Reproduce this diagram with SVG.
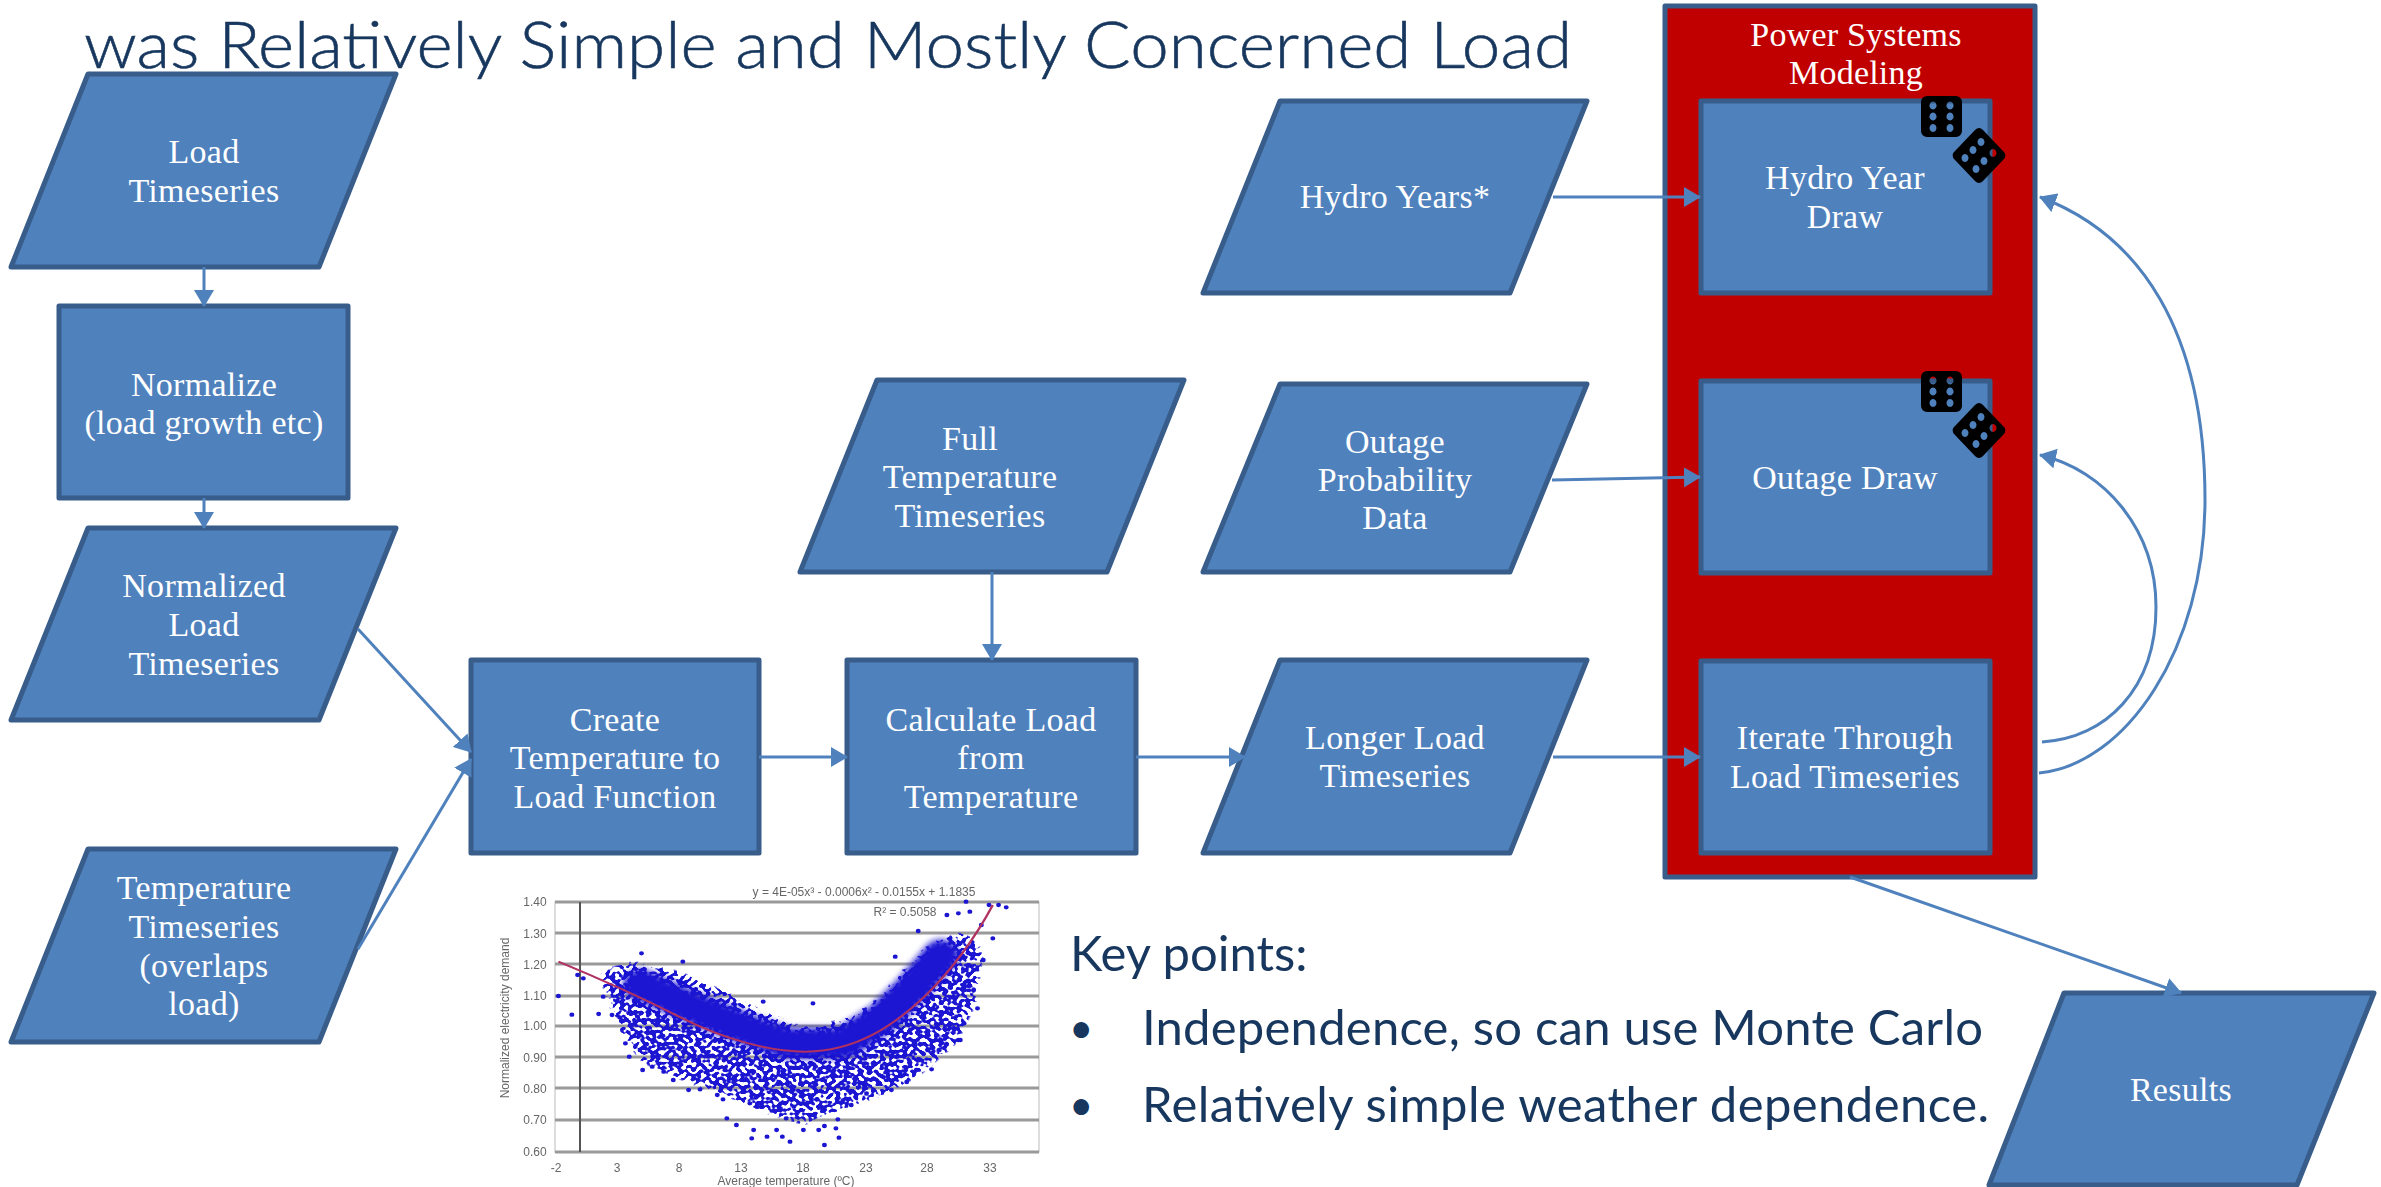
<svg xmlns="http://www.w3.org/2000/svg" width="2381" height="1187" viewBox="0 0 2381 1187">
<style>
.n{fill:#4f81bd;stroke:#385d8a;stroke-width:5;stroke-linejoin:round}
.t{font-family:"Liberation Serif",serif;font-size:34px;letter-spacing:.3px;fill:#fff;text-anchor:middle}
.p{letter-spacing:.2px}
.c{fill:none;stroke:#4f81bd;stroke-width:3;marker-end:url(#a)}
.h{font-family:Lato,"Liberation Sans",sans-serif;fill:#17375e;font-size:49px}
.g{stroke:#9a9a9a;stroke-width:3;fill:none}
.k{font-family:"Liberation Sans",sans-serif;font-size:12px;fill:#666;text-anchor:middle}
</style>
<defs>
<marker id="a" markerUnits="userSpaceOnUse" markerWidth="18" markerHeight="20" refX="16" refY="10" orient="auto"><path d="M0 0L17 10L0 20Z" fill="#4f81bd"/></marker>
<path id="die" fill="#000" fill-rule="evenodd" d="M1927 96h29a6 6 0 0 1 6 6v29a6 6 0 0 1-6 6h-29a6 6 0 0 1-6-6v-29a6 6 0 0 1 6-6ZM1933 101.500a3.500 4 0 1 0 .01 0ZM1950 101.500a3.500 4 0 1 0 .01 0ZM1933 112.500a3.500 4 0 1 0 .01 0ZM1950 112.500a3.500 4 0 1 0 .01 0ZM1933 124a3.500 4 0 1 0 .01 0ZM1950 124a3.500 4 0 1 0 .01 0ZM1975 130Q1979 126 1983 130L2003 151Q2008 155 2003 160L1983 181Q1979 185 1975 181L1955 160Q1950 155 1955 151ZM1981 138a3.500 4 0 1 0 .01 0ZM1973 146a3.500 4 0 1 0 .01 0ZM1965 154a3.500 4 0 1 0 .01 0ZM1993 149a3.500 4 0 1 0 .01 0ZM1984 157a3.500 4 0 1 0 .01 0ZM1976 165a3.500 4 0 1 0 .01 0Z"/>
<filter id="sp" x="-.05" y="-.05" width="1.1" height="1.1" color-interpolation-filters="sRGB">
<feGaussianBlur in="SourceAlpha" stdDeviation="14" result="b"/>
<feTurbulence type="fractalNoise" baseFrequency=".085" numOctaves="1" seed="7"/>
<feColorMatrix values="0 0 0 0 0 0 0 0 0 0 0 0 0 0 0 1.600 0 0 0 0" result="nz"/>
<feComposite in="nz" in2="b" operator="arithmetic" k1="0" k2="1" k3="1" k4="-1"/>
<feComponentTransfer result="m"><feFuncA type="linear" slope="9" intercept="-2.700"/></feComponentTransfer>
<feFlood flood-color="#1a14d2"/><feComposite in2="m" operator="in"/>
</filter>
<filter id="bl"><feGaussianBlur stdDeviation=".6"/></filter>
<filter id="bc" x="-.1" y="-.3" width="1.2" height="1.6"><feGaussianBlur stdDeviation="9"/></filter>
</defs>
<rect width="2381" height="1187" fill="#fff"/>
<text class="h" x="84" y="68" style="font-size:66px;font-weight:300" stroke="#17375e" stroke-width=".6" textLength="1488" lengthAdjust="spacingAndGlyphs">was Relatively Simple and Mostly Concerned Load</text>

<g id="chart">
<g filter="url(#bl)">
<rect x="555" y="902" width="484" height="250" fill="#fff" stroke="#bbb"/>
<path class="g" d="M555 902H1039M555 933H1039M555 964H1039M555 996H1039M555 1026H1039M555 1057H1039M555 1088H1039M555 1120H1039M555 1152H1039"/>
<path d="M580 902V1152" stroke="#555" stroke-width="2" fill="none"/>
<g class="k">
<text x="535" y="906">1.40</text><text x="535" y="938">1.30</text><text x="535" y="969">1.20</text><text x="535" y="1000">1.10</text><text x="535" y="1030">1.00</text><text x="535" y="1062">0.90</text><text x="535" y="1093">0.80</text><text x="535" y="1124">0.70</text><text x="535" y="1156">0.60</text>
<text x="556" y="1172">-2</text><text x="617" y="1172">3</text><text x="679" y="1172">8</text><text x="741" y="1172">13</text><text x="803" y="1172">18</text><text x="866" y="1172">23</text><text x="927" y="1172">28</text><text x="990" y="1172">33</text>
<text x="864" y="896">y = 4E-05x³ - 0.0006x² - 0.0155x + 1.1835</text><text x="905" y="916">R² = 0.5058</text>
<text x="786" y="1185">Average temperature (ºC)</text>
<text transform="translate(509 1018) rotate(-90)">Normalized electricity demand</text>
</g>
<g transform="translate(480 870) scale(.3827 .3333)">
<g filter="url(#sp)">
<path fill-opacity=".62" d="M310 300L400 270L520 300L640 360L740 420L850 470L960 440L1040 380L1100 300L1170 220L1260 180L1320 230L1300 400L1250 520L1150 620L1050 680L950 720L850 770L740 730L640 680L540 640L420 580L360 480L320 360Z"/>
</g>
<path d="M420 345L550 410L700 480L800 520L950 520L1050 445L1130 355L1205 255" fill="none" stroke="#1a14d2" stroke-width="92" stroke-linecap="round" stroke-linejoin="round" filter="url(#bc)"/>
<path fill="none" stroke="#1a14d2" stroke-width="13" stroke-linecap="round" d="M205 378h0M240 434h0M310 432h0M345 435h0M365 442h0M255 315h0M270 325h0M322 380h0M1085 260h0M530 275h0M422 250h0M740 395h0M870 400h0M1145 183h0M1220 135h0M1250 130h0M1270 95h0M1280 125h0M1330 105h0M1355 105h0M1375 112h0M1310 165h0M1340 205h0M1315 270h0M1290 360h0M1300 415h0M1265 460h0M1250 510h0M1180 598h0M1115 636h0M1075 660h0M645 745h0M670 765h0M715 780h0M710 805h0M750 800h0M790 800h0M810 815h0M775 780h0M800 745h0M845 780h0M885 780h0M900 825h0M900 768h0M935 748h0M930 775h0M938 803h0M895 718h0M845 700h0M820 710h0M785 715h0M735 703h0M705 700h0M635 688h0M620 675h0M970 705h0M1010 670h0M545 660h0M575 658h0M505 630h0M480 605h0M425 600h0M390 560h0M380 520h0M450 590h0M1140 600h0M1200 540h0M1255 510h0"/>
<path d="M205 275C300 320 400 370 520 440C640 510 760 545 850 545C980 545 1080 470 1170 370C1240 290 1300 190 1340 105" fill="none" stroke="#b03060" stroke-width="6"/>
</g>
</g>
</g>

<g id="load-timeseries"><path class="n" d="M88 74H396L319 267H11Z"/><text class="t" x="204" y="163">Load</text><text class="t" x="204" y="202">Timeseries</text></g>
<g id="normalize"><rect class="n" x="59" y="306" width="289" height="192"/><text class="t" x="204" y="396">Normalize</text><text class="t" x="204" y="434">(load growth etc)</text></g>
<g id="normalized-load"><path class="n" d="M88 528H396L319 720H11Z"/><text class="t" x="204" y="597">Normalized</text><text class="t" x="204" y="636">Load</text><text class="t" x="204" y="675">Timeseries</text></g>
<g id="temperature-timeseries"><path class="n" d="M88 849H396L319 1042H11Z"/><text class="t" x="204" y="899">Temperature</text><text class="t" x="204" y="938">Timeseries</text><text class="t" x="204" y="977">(overlaps</text><text class="t" x="204" y="1015">load)</text></g>
<g id="create-function"><rect class="n" x="471" y="660" width="288" height="193"/><text class="t" x="615" y="731">Create</text><text class="t" x="615" y="769">Temperature to</text><text class="t" x="615" y="808">Load Function</text></g>
<g id="calculate-load"><rect class="n" x="847" y="660" width="289" height="193"/><text class="t" x="991" y="731">Calculate Load</text><text class="t" x="991" y="769">from</text><text class="t" x="991" y="808">Temperature</text></g>
<g id="full-temperature"><path class="n" d="M877 380H1184L1107 572H800Z"/><text class="t" x="970" y="450">Full</text><text class="t" x="970" y="488">Temperature</text><text class="t" x="970" y="527">Timeseries</text></g>
<g id="hydro-years"><path class="n" d="M1280 101H1587L1510 293H1203Z"/><text class="t" x="1395" y="208">Hydro Years*</text></g>
<g id="outage-data"><path class="n" d="M1280 384H1587L1510 572H1203Z"/><text class="t" x="1395" y="453">Outage</text><text class="t" x="1395" y="491">Probability</text><text class="t" x="1395" y="529">Data</text></g>
<g id="longer-load"><path class="n" d="M1280 660H1587L1510 853H1203Z"/><text class="t" x="1395" y="749">Longer Load</text><text class="t" x="1395" y="787">Timeseries</text></g>

<g id="power-systems"><rect x="1665" y="6" width="370" height="871" fill="#c00000" stroke="#385d8a" stroke-width="5" stroke-linejoin="round"/><text class="t p" x="1856" y="46">Power Systems</text><text class="t p" x="1856" y="84">Modeling</text></g>
<g id="hydro-draw"><rect class="n" x="1701" y="101" width="289" height="192"/><text class="t" x="1845" y="189">Hydro Year</text><text class="t" x="1845" y="228">Draw</text><use href="#die"/></g>
<g id="outage-draw"><rect class="n" x="1701" y="381" width="289" height="192"/><text class="t" x="1845" y="489">Outage Draw</text><use href="#die" y="275"/></g>
<g id="iterate"><rect class="n" x="1701" y="661" width="289" height="192"/><text class="t" x="1845" y="749">Iterate Through</text><text class="t" x="1845" y="788">Load Timeseries</text></g>
<g id="results"><path class="n" d="M2064 993H2374L2297 1185H1989Z"/><text class="t" x="2181" y="1101">Results</text></g>

<g id="connectors">
<path class="c" d="M204 267V306"/>
<path class="c" d="M204 498V528"/>
<path class="c" d="M358 629L471 752"/>
<path class="c" d="M358 949L471 759"/>
<path class="c" d="M759 757H847"/>
<path class="c" d="M992 572V660"/>
<path class="c" d="M1136 757H1245"/>
<path class="c" d="M1553 757H1700"/>
<path class="c" d="M1553 197H1700"/>
<path class="c" d="M1552 480L1700 477"/>
<path class="c" d="M1850 877L2181 993"/>
<path class="c" d="M2039 773C2125 765 2205 650 2205 500C2205 330 2140 235 2040 197"/>
<path class="c" d="M2042 742C2105 738 2156 690 2156 607C2156 530 2105 470 2040 455"/>
</g>

<text class="h" x="1070" y="971">Key points:</text>
<text class="h" x="1069" y="1043" style="font-size:42px">•</text>
<text class="h" x="1142" y="1045" textLength="841">Independence, so can use Monte Carlo</text>
<text class="h" x="1069" y="1120" style="font-size:42px">•</text>
<text class="h" x="1142" y="1122" textLength="847">Relatively simple weather dependence.</text>
</svg>
